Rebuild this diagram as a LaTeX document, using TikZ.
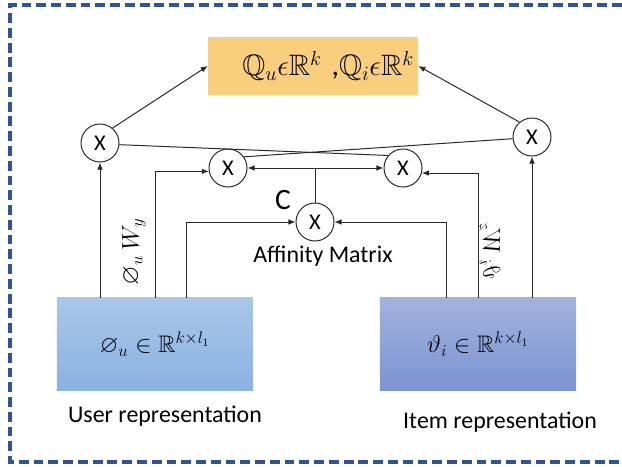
\documentclass[tikz,border=0pt]{standalone}
\usepackage{amsmath}
\usepackage{amssymb}
\usepackage{fontspec}
\setmainfont{Carlito}
\usepackage{tikz}
\usetikzlibrary{arrows.meta}
\definecolor{frameBlue}{RGB}{47,85,151}
\definecolor{softOrange}{RGB}{249,206,124}
\definecolor{userTop}{RGB}{170,198,234}
\definecolor{userBottom}{RGB}{138,178,226}
\definecolor{itemTop}{RGB}{162,178,222}
\definecolor{itemBottom}{RGB}{122,148,210}
\definecolor{lineGray}{RGB}{40,40,40}

\begin{document}
\begin{tikzpicture}[x=0.025cm, y=-0.025cm,
  mult/.style={circle, draw=lineGray, line width=0.7pt, minimum size=0.95cm, inner sep=0pt, font=\fontsize{16}{18}\selectfont},
  repbox/.style={minimum width=4.9cm, minimum height=2.3cm, inner sep=0pt, font=\fontsize{17}{20}\selectfont},
  caption/.style={font=\fontsize{17}{20}\selectfont},
  wire/.style={lineGray, line width=0.7pt},
  arr/.style={wire, -{Latex[length=5pt, width=4pt]}}]
 	\useasboundingbox (0,0) rectangle (622,466);
 	\draw[frameBlue, line width=2.2pt, dash pattern=on 7pt off 3.5pt] (622,5) -- (10,5) -- (10,462) -- (622,462);
 	\node[fill=softOrange, minimum width=5.25cm, minimum height=1.43cm, text width=5.05cm, align=right, inner sep=2pt, font=\fontsize{21}{24}\selectfont] (out) at (313,66) {$\mathbb{Q}_u\epsilon\mathbb{R}^k$\ ,$\mathbb{Q}_i\epsilon\mathbb{R}^k$};
 	\node[repbox, top color=userTop, bottom color=userBottom] (ubox) at (155,344) {$\varnothing_u\in\mathbb{R}^{k\times l_1}$};
 	\node[repbox, top color=itemTop, bottom color=itemBottom] (ibox) at (478,344) {$\vartheta_i\in\mathbb{R}^{k\times l_1}$};
 	\node[caption] (ulab) at (165,416) {User representation};
 	\node[caption] (ilab) at (500,422) {Item representation};
	\node[mult] (m1) at (100,143) {X};
	\node[mult] (m2) at (228,168) {X};
	\node[mult] (m3) at (403,168) {X};
	\node[mult] (m4) at (532,137) {X};
	\node[mult] (mc) at (315,222) {X};
 	\node[font=\fontsize{21}{24}\selectfont] (clab) at (283,200) {C};
 	\node[caption] (aff) at (323,256) {Affinity Matrix};
 	\node[rotate=90, font=\fontsize{18}{20}\selectfont] (wy) at (134,252) {$\varnothing_u\ W_y$};
 	\node[rotate=90, yscale=-1, font=\fontsize{18}{20}\selectfont] (wz) at (490,251) {$\vartheta_i\ W_z$};
	\draw[arr] (ubox.north -| m1) -- (m1.south);
	\draw[arr] (ubox.north) |- (m2.-170);
	\draw[arr] ([xshift=31*0.025cm]ubox.north) |- (mc.west);
	\draw[arr] (ibox.north -| m4) -- (m4.south);
	\draw[arr] (ibox.north) |- (m3.-15);
	\draw[arr] ([xshift=-32*0.025cm]ibox.north) |- (mc.east);
	\draw[wire] (mc.north) -- (mc.north |- m2.east);
	\draw[arr, {Latex[length=5pt, width=4pt]}-{Latex[length=5pt, width=4pt]}] (m2.east) -- (m3.west);
	\draw[wire] (m1.-5) -- (m3.140);
	\draw[wire] (m4.185) -- (m2.35);
	\draw[arr] (m1.50) -- (out.west);
	\draw[arr] (m4.130) -- (out.east);
\end{tikzpicture}
\end{document}
